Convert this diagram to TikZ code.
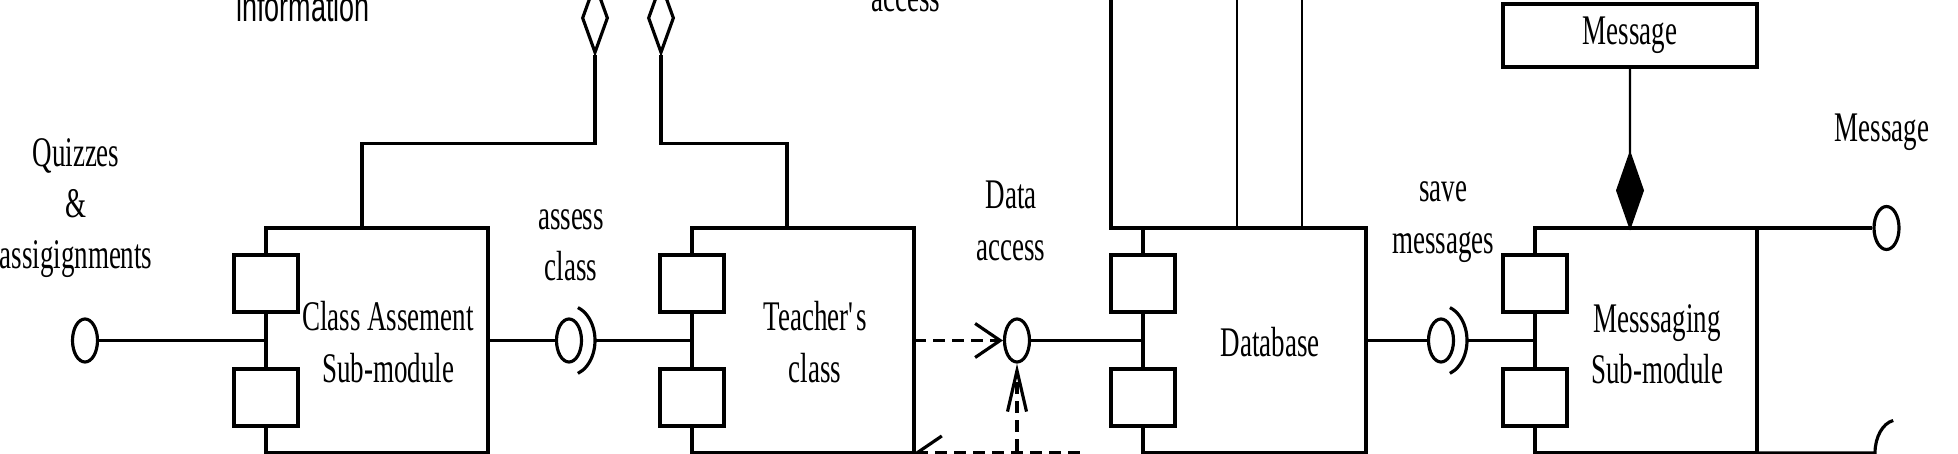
\documentclass[tikz,border=0pt]{standalone}
\usepackage{fontspec}
\setmainfont{Liberation Serif}[FakeStretch=0.64]
\newfontfamily\sanslbl{Liberation Sans}[FakeStretch=0.64]
\usetikzlibrary{shapes.geometric,arrows.meta}

\begin{document}
\begin{tikzpicture}[line width=0.9pt,
        every node/.style={font=\fontsize{12}{14.6}\selectfont, align=center},
        comp/.style={draw, minimum width=2.22cm, minimum height=2.25cm, inner sep=0pt, outer sep=0pt},
        port/.style={draw, fill=white, minimum width=0.64cm, minimum height=0.57cm, inner sep=0pt},
        iface/.style={draw, ellipse, fill=white, minimum width=0.25cm, minimum height=0.43cm, inner sep=0pt},
        agg/.style={draw, diamond, minimum width=0.26cm, minimum height=0.70cm, inner sep=0pt},
        dep/.style={dash pattern=on 1.2mm off 0.7mm},
        thinline/.style={line width=0.65pt}]

        \useasboundingbox (0,0) rectangle (19.58,-4.54);
        \clip (0,0) rectangle (19.58,-4.54);

        \node[comp] (cam) at (3.77,-3.405) {};
        \node[comp] (tc) at (8.03,-3.405) {};
        \node[comp, minimum width=2.23cm] (db) at (12.545,-3.405) {};
        \node[comp] (msm) at (16.46,-3.405) {};

        \node (camtxt) at (3.88,-3.42) {Class Assement\\Sub-module};
        \node (tctxt) at (8.15,-3.42) {Teacher\textquotesingle s\\class};
        \node (dbtxt) at (12.70,-3.42) {Database};
        \node (msmtxt) at (16.57,-3.44) {Messsaging\\Sub-module};

        \foreach \c in {cam,tc,db,msm}{
            \node[port] (\c p1) at ([yshift=5.7mm]\c.west) {};
            \node[port] (\c p2) at ([yshift=-5.7mm]\c.west) {};
        }

        \node[iface] (qa) at (0.85,-3.405) {};
        \node[iface] (ac) at (5.69,-3.405) {};
        \node[iface] (da) at (10.17,-3.405) {};
        \node[iface] (sm) at (14.41,-3.405) {};
        \node[iface] (mo) at (18.865,-2.28) {};

        \node (qlbl) at (0.76,-2.08) {Quizzes\\\&\\assigignments};
        \node (albl) at (5.71,-2.45) {assess\\class};
        \node (dlbl) at (10.11,-2.21) {Data\\access};
        \node (slbl) at (14.43,-2.22) {save\\messages};
        \node (mlbl) at (18.82,-1.32) {Message};
        \node[anchor=base, font=\sanslbl\fontsize{12}{14}\selectfont] (ilbl) at (3.03,-0.22) {information};
        \node[anchor=base] (tlbl) at (9.06,-0.12) {access};

        \draw (qa.east) -- (cam.west);
        \draw (cam.east) -- (ac.west);
        \draw (ac.center) ++(-70:0.26 and 0.35) arc[start angle=-70, end angle=70, x radius=0.26, y radius=0.35];
        \draw ([xshift=2.6mm]ac.center) -- (tc.west);
        \draw (da.east) -- (db.west);
        \draw (db.east) -- (sm.west);
        \draw (sm.center) ++(-70:0.26 and 0.35) arc[start angle=-70, end angle=70, x radius=0.26, y radius=0.35];
        \draw ([xshift=2.6mm]sm.center) -- (msm.west);

        \node[agg] (ha) at (5.95,-0.18) {};
        \node[agg] (hb) at (6.61,-0.18) {};
        \draw (ha.south) -- ++(0,-0.89) -| ([xshift=-1.5mm]cam.north);
        \draw (hb.south) -- ++(0,-0.89) -| ([xshift=-1.6mm]tc.north);
        \draw ([xshift=-1.5mm]cam.south) -- ++(0,-0.3);
        \draw ([xshift=-1.6mm]tc.south) -- ++(0,-0.3);

        \coordinate (dbl) at (11.11,0.3);
        \coordinate (dbm) at (12.37,0.3);
        \coordinate (dbr) at (13.02,0.3);
        \draw (db.north west) -| (dbl);
        \begin{scope}[thinline]
        \draw (dbm) -- (dbm |- db.north);
        \draw (dbr) -- (dbr |- db.north);
        \end{scope}

        \node[draw, minimum width=2.54cm, minimum height=0.63cm, inner sep=0pt] (msg) at (16.30,-0.355) {Message};
        \node[agg, fill=black, minimum height=0.72cm, anchor=south] (cmp) at ([xshift=-1.6mm]msm.north) {};
        \draw[thinline] (msg.south) -- (cmp.north);
        \draw (msm.north east) -- (mo.west);
        \coordinate (mr) at (18.97,-4.53);
        \draw (msm.south east) -- ([xshift=-2.2mm]mr) arc[start angle=180, end angle=100, x radius=0.22, y radius=0.33];

        \coordinate (dsrc) at (10.17,-4.7);
        \coordinate (tsrc) at (10.80,-4.53);
        \begin{scope}[dep]
        \draw[-{Straight Barb[length=2.5mm, width=3.4mm]}] (tc.east) -- (da.west);
        \draw[-{Straight Barb[length=4.1mm, width=1.9mm]}] (dsrc) -- (da.south);
        \draw[-{Straight Barb[length=2.5mm, width=3.4mm]}] (tsrc) -- (tc.south east);
        \end{scope}

\end{tikzpicture}
\end{document}
